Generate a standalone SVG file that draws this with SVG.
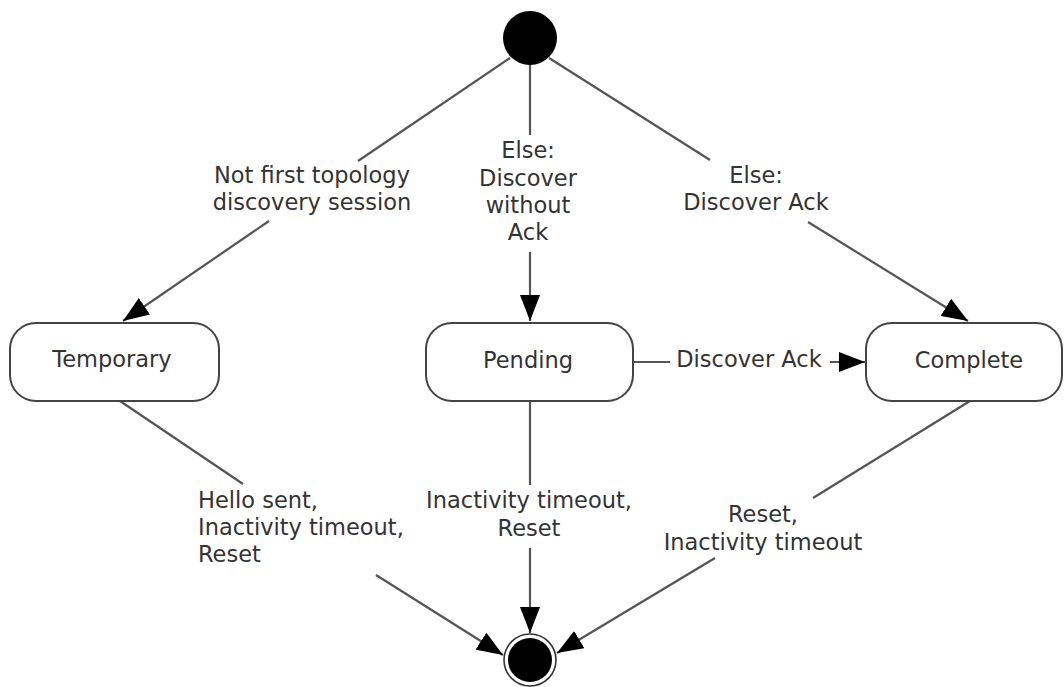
<svg xmlns="http://www.w3.org/2000/svg" width="1064" height="687" viewBox="0 0 1064 687">
  <style>
    .box { fill: #ffffff; stroke: #444444; stroke-width: 2; }
    .edge { fill: none; stroke: #555555; stroke-width: 2.2; }
    .lbl { font-family: "DejaVu Sans", Verdana, sans-serif; font-size: 22.5px; fill: #333333; }
    .mid { text-anchor: middle; }
  </style>
  <defs>
    <marker id="arrow" markerUnits="userSpaceOnUse" markerWidth="26" markerHeight="20" refX="26" refY="10" orient="auto">
      <path d="M0,0 L26,10 L0,20 Z" fill="#000000"/>
    </marker>
  </defs>
  <rect width="1064" height="687" fill="#ffffff"/>

  <g id="connectors">
    <!-- initial -> Temporary -->
    <line class="edge" x1="510" y1="58" x2="358" y2="161"/>
    <line class="edge" x1="269" y1="221" x2="123" y2="321" marker-end="url(#arrow)"/>
    <!-- initial -> Pending -->
    <line class="edge" x1="530" y1="64" x2="530" y2="135"/>
    <line class="edge" x1="530" y1="252" x2="530" y2="321" marker-end="url(#arrow)"/>
    <!-- initial -> Complete -->
    <line class="edge" x1="549" y1="58" x2="710" y2="160"/>
    <line class="edge" x1="808" y1="222" x2="968" y2="321" marker-end="url(#arrow)"/>
    <!-- Pending -> Complete -->
    <line class="edge" x1="634" y1="362" x2="670" y2="362"/>
    <line class="edge" x1="830" y1="362" x2="865" y2="362" marker-end="url(#arrow)"/>
    <!-- Temporary -> final -->
    <line class="edge" x1="120" y1="401" x2="243" y2="484"/>
    <line class="edge" x1="376" y1="575" x2="503" y2="655" marker-end="url(#arrow)"/>
    <!-- Pending -> final -->
    <line class="edge" x1="530" y1="401" x2="530" y2="485"/>
    <line class="edge" x1="530" y1="548" x2="530" y2="633" marker-end="url(#arrow)"/>
    <!-- Complete -> final -->
    <line class="edge" x1="970" y1="401" x2="813" y2="498"/>
    <line class="edge" x1="715" y1="558" x2="557" y2="653" marker-end="url(#arrow)"/>

    <text class="lbl mid" x="312" y="183">Not first topology</text>
    <text class="lbl mid" x="312" y="210">discovery session</text>

    <text class="lbl mid" x="528" y="158">Else:</text>
    <text class="lbl mid" x="528" y="186">Discover</text>
    <text class="lbl mid" x="528" y="213">without</text>
    <text class="lbl mid" x="528" y="240">Ack</text>

    <text class="lbl mid" x="756" y="183">Else:</text>
    <text class="lbl mid" x="756" y="210">Discover Ack</text>

    <text class="lbl mid" x="749" y="367">Discover Ack</text>

    <text class="lbl" x="198" y="508">Hello sent,</text>
    <text class="lbl" x="198" y="535">Inactivity timeout,</text>
    <text class="lbl" x="198" y="562">Reset</text>

    <text class="lbl mid" x="529" y="508">Inactivity timeout,</text>
    <text class="lbl mid" x="529" y="536">Reset</text>

    <text class="lbl mid" x="763" y="522">Reset,</text>
    <text class="lbl mid" x="763" y="550">Inactivity timeout</text>
  </g>

  <g id="initial">
    <circle cx="530" cy="38" r="27" fill="#000000"/>
  </g>

  <g id="temporary">
    <rect class="box" x="10" y="323" width="209" height="78" rx="26" ry="26"/>
    <text class="lbl mid" x="112" y="367">Temporary</text>
  </g>

  <g id="pending">
    <rect class="box" x="426" y="323" width="207" height="78" rx="26" ry="26"/>
    <text class="lbl mid" x="528" y="368">Pending</text>
  </g>

  <g id="complete">
    <rect class="box" x="866" y="323" width="196" height="78" rx="26" ry="26"/>
    <text class="lbl mid" x="969" y="368">Complete</text>
  </g>

  <g id="final">
    <circle cx="530" cy="660" r="26" fill="#ffffff" stroke="#333333" stroke-width="1.6"/>
    <circle cx="530" cy="660" r="22" fill="#000000"/>
  </g>
</svg>
